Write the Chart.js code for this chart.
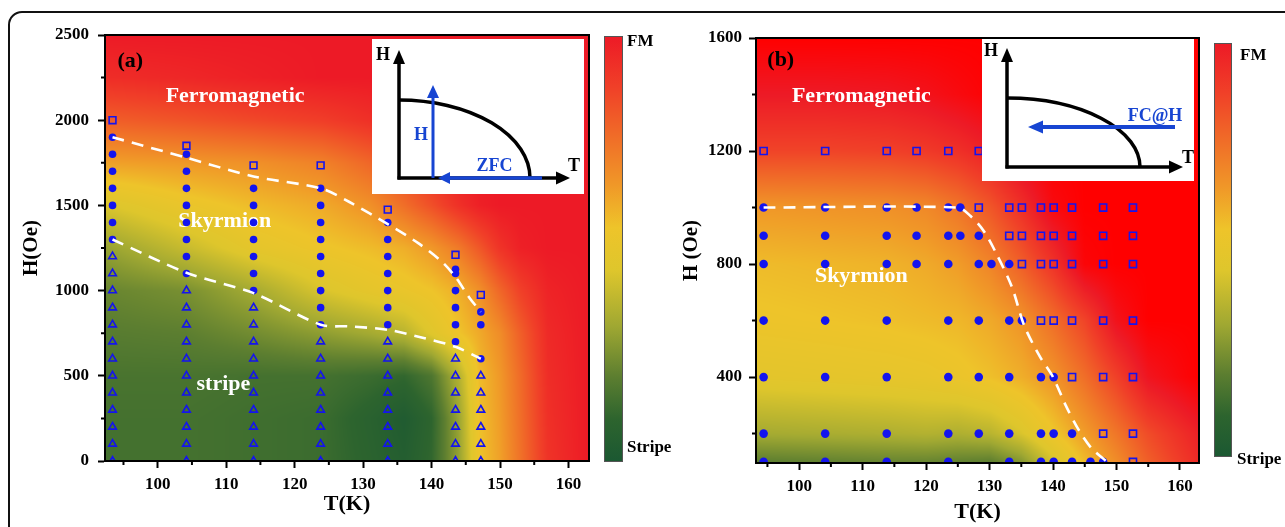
<!DOCTYPE html>
<html>
<head>
<meta charset="utf-8">
<script src="https://cdn.jsdelivr.net/npm/chart.js@4.4.1/dist/chart.umd.min.js"></script>
<style>
  body { margin: 0; background: #fff; width: 1285px; height: 527px; overflow: hidden; position: relative; }
  .frame { position: absolute; left: 8px; top: 11px; width: 1320px; height: 600px; border: 2.5px solid #111; border-radius: 14px; }
  canvas { position: absolute; top: 0; }
  #chartA { left: 0; }
  #chartB { left: 642px; }
</style>
</head>
<body>
<div class="frame"></div>
<canvas id="chartB" width="643" height="527"></canvas>
<canvas id="chartA" width="700" height="527"></canvas>
<script>
/**
 * Skyrmion phase diagrams: (a) ZFC protocol, (b) FC@H protocol.
 */

// ---------- panel (a) ----------
const xTicksA = [100, 110, 120, 130, 140, 150, 160];
const xMinorA = [95, 105, 115, 125, 135, 145, 155];
const yTicksA = [0, 500, 1000, 1500, 2000, 2500];
const yMinorA = [250, 750, 1250, 1750, 2250];

// measurement temperatures (K)
const colTA = [93.4, 104.2, 114.0, 123.8, 133.6, 143.5, 147.2];
// field values (Oe) per temperature column
const fmHA = [[2000], [1850], [1735], [1735], [1475], [1210], [975]];
const skHA = [
  [1900, 1800, 1700, 1600, 1500, 1400, 1300],
  [1800, 1700, 1600, 1500, 1400, 1300, 1200, 1100],
  [1600, 1500, 1400, 1300, 1200, 1100, 1000],
  [1600, 1500, 1400, 1300, 1200, 1100, 1000, 900, 800],
  [1400, 1300, 1200, 1100, 1000, 900, 800],
  [1125, 1100, 1000, 900, 800, 700],
  [875, 800, 600]
];
const stHA = [
  [1200, 1100, 1000, 900, 800, 700, 600, 500, 400, 300, 200, 100, 0],
  [1000, 900, 800, 700, 600, 500, 400, 300, 200, 100, 0],
  [900, 800, 700, 600, 500, 400, 300, 200, 100, 0],
  [700, 600, 500, 400, 300, 200, 100, 0],
  [700, 600, 500, 400, 300, 200, 100, 0],
  [600, 500, 400, 300, 200, 100, 0],
  [500, 400, 300, 200, 100, 0]
];
const upperTA = [93.4, 104.2, 114.0, 123.8, 128.0, 133.6, 138.0, 141.5, 143.5, 145.5, 147.2];
const upperHA = [1900, 1780, 1670, 1600, 1520, 1390, 1280, 1170, 1080, 960, 875];
const lowerTA = [93.4, 104.2, 114.0, 123.8, 128.0, 133.6, 139.0, 143.5, 147.2];
const lowerHA = [1300, 1105, 985, 800, 790, 770, 720, 670, 600];

// background phase value (0 = stripe, 1 = FM) sampled on a T x H grid
const mapTA = [92, 104, 114, 124, 131, 136, 140, 144, 147, 150, 153, 157, 163];
const mapHA = [0, 250, 500, 750, 1000, 1250, 1500, 1750, 2000, 2250, 2500];
const mapVA = [
  [0.15, 0.15, 0.14, 0.13, 0.09, 0.05, 0.11, 0.30, 0.55, 0.63, 0.75, 0.92, 1.0],
  [0.15, 0.15, 0.14, 0.13, 0.08, 0.03, 0.10, 0.31, 0.56, 0.64, 0.76, 0.93, 1.0],
  [0.16, 0.16, 0.15, 0.15, 0.13, 0.11, 0.17, 0.36, 0.57, 0.65, 0.77, 0.94, 1.0],
  [0.19, 0.20, 0.24, 0.29, 0.33, 0.37, 0.46, 0.55, 0.61, 0.68, 0.80, 0.95, 1.0],
  [0.22, 0.25, 0.33, 0.44, 0.49, 0.52, 0.55, 0.60, 0.67, 0.78, 0.88, 0.97, 1.0],
  [0.30, 0.40, 0.49, 0.54, 0.57, 0.60, 0.65, 0.73, 0.82, 0.92, 0.98, 1.0, 1.0],
  [0.44, 0.52, 0.57, 0.61, 0.67, 0.76, 0.84, 0.93, 0.98, 1.0, 1.0, 1.0, 1.0],
  [0.63, 0.65, 0.67, 0.71, 0.78, 0.87, 0.94, 0.99, 1.0, 1.0, 1.0, 1.0, 1.0],
  [0.80, 0.83, 0.86, 0.89, 0.93, 0.97, 1.0, 1.0, 1.0, 1.0, 1.0, 1.0, 1.0],
  [0.94, 0.96, 0.98, 1.0, 1.0, 1.0, 1.0, 1.0, 1.0, 1.0, 1.0, 1.0, 1.0],
  [1.0, 1.0, 1.0, 1.0, 1.0, 1.0, 1.0, 1.0, 1.0, 1.0, 1.0, 1.0, 1.0]
];

// ---------- panel (b) ----------
const xTicksB = [100, 110, 120, 130, 140, 150, 160];
const xMinorB = [95, 105, 115, 125, 135, 145, 155];
const yTicksB = [400, 800, 1200, 1600];
const yMinorB = [200, 600, 1000, 1400];

// field rows (Oe) and the temperatures measured on each row
const rowHB = [1200, 1000, 900, 800, 600, 400, 200, 100];
const fmTB = [
  [94.4, 104.1, 113.8, 118.5, 123.5, 128.3],
  [128.3, 133.1, 135.1, 138.1, 140.1, 143.0, 147.9, 152.6],
  [133.1, 135.1, 138.1, 140.1, 143.0, 147.9, 152.6],
  [135.1, 138.1, 140.1, 143.0, 147.9, 152.6],
  [138.1, 140.1, 143.0, 147.9, 152.6],
  [143.0, 147.9, 152.6],
  [147.9, 152.6],
  [152.6]
];
const skTB = [
  [],
  [94.4, 104.1, 113.8, 118.5, 123.5, 125.4],
  [94.4, 104.1, 113.8, 118.5, 123.5, 125.4, 128.3],
  [94.4, 104.1, 113.8, 118.5, 123.5, 128.3, 130.3, 133.1],
  [94.4, 104.1, 113.8, 123.5, 128.3, 133.1, 135.1],
  [94.4, 104.1, 113.8, 123.5, 128.3, 133.1, 138.1, 140.1],
  [94.4, 104.1, 113.8, 123.5, 128.3, 133.1, 138.1, 140.1, 143.0],
  [94.4, 104.1, 113.8, 123.5, 133.1, 138.1, 140.1, 143.0, 145.9, 147.9]
];
const boundTB = [94.4, 125.0, 127.0, 129.0, 131.0, 133.5, 135.5, 138.0, 140.0, 142.0, 144.0, 146.0, 148.5];
const boundHB = [1000, 1000, 970, 920, 840, 720, 580, 470, 400, 300, 215, 150, 100];

const mapTB = [93, 104, 114, 120, 125, 130, 135, 140, 145, 150, 155, 163];
const mapHB = [100, 200, 400, 600, 800, 1000, 1200, 1400, 1600];
const mapVB = [
  [0.20, 0.21, 0.22, 0.22, 0.21, 0.20, 0.27, 0.43, 0.57, 0.68, 0.80, 0.95],
  [0.33, 0.34, 0.35, 0.36, 0.35, 0.37, 0.44, 0.54, 0.64, 0.74, 0.85, 0.98],
  [0.48, 0.49, 0.50, 0.51, 0.53, 0.56, 0.60, 0.66, 0.76, 0.88, 1.02, 1.10],
  [0.54, 0.55, 0.56, 0.57, 0.58, 0.61, 0.66, 0.76, 0.87, 1.03, 1.10, 1.10],
  [0.57, 0.58, 0.59, 0.61, 0.64, 0.70, 0.80, 0.92, 1.08, 1.10, 1.10, 1.10],
  [0.65, 0.66, 0.67, 0.69, 0.74, 0.82, 0.93, 1.06, 1.10, 1.10, 1.10, 1.10],
  [0.87, 0.87, 0.88, 0.90, 0.93, 0.98, 1.06, 1.10, 1.10, 1.10, 1.10, 1.10],
  [1.00, 1.00, 1.01, 1.03, 1.06, 1.09, 1.10, 1.10, 1.10, 1.10, 1.10, 1.10],
  [1.10, 1.10, 1.10, 1.10, 1.10, 1.10, 1.10, 1.10, 1.10, 1.10, 1.10, 1.10]
];

// ---------- styling ----------
const SERIF = "'Liberation Serif', 'Times New Roman', serif";
const MARK = '#1414ee';
const INK = '#1745d2';

// stripe -> skyrmion -> FM colour map
const cmapStops = [
  [0.00, [27, 88, 50]],
  [0.10, [45, 100, 46]],
  [0.20, [92, 126, 48]],
  [0.32, [160, 168, 50]],
  [0.45, [222, 198, 44]],
  [0.55, [238, 196, 42]],
  [0.65, [240, 152, 40]],
  [0.76, [240, 110, 40]],
  [0.88, [240, 64, 40]],
  [1.00, [237, 26, 38]],
  [1.10, [255, 0, 0]]
];

function cmap(v) {
  if (v <= cmapStops[0][0]) return cmapStops[0][1];
  for (let i = 1; i < cmapStops.length; i++) {
    const [v1, c1] = cmapStops[i];
    if (v <= v1) {
      const [v0, c0] = cmapStops[i - 1];
      const f = (v - v0) / (v1 - v0);
      return c0.map((c, k) => c + (c1[k] - c) * f);
    }
  }
  return cmapStops[cmapStops.length - 1][1];
}

function locate(grid, v) {
  const n = grid.length;
  if (v <= grid[0]) return [0, 0];
  if (v >= grid[n - 1]) return [n - 2, 1];
  let i = 0;
  while (v > grid[i + 1]) i++;
  return [i, (v - grid[i]) / (grid[i + 1] - grid[i])];
}

function drawPhaseMap(chart, tGrid, hGrid, vals) {
  const { ctx, chartArea: ca, scales: { x, y } } = chart;
  const left = Math.round(ca.left), top = Math.round(ca.top);
  const w = Math.round(ca.right) - left, h = Math.round(ca.bottom) - top;
  const img = ctx.createImageData(w, h);
  const cols = [];
  for (let i = 0; i < w; i++) cols.push(locate(tGrid, x.getValueForPixel(left + i + 0.5)));
  for (let j = 0; j < h; j++) {
    const [hj, hf] = locate(hGrid, y.getValueForPixel(top + j + 0.5));
    const r0 = vals[hj], r1 = vals[hj + 1];
    for (let i = 0; i < w; i++) {
      const [ti, tf] = cols[i];
      const a = r0[ti] + (r0[ti + 1] - r0[ti]) * tf;
      const b = r1[ti] + (r1[ti + 1] - r1[ti]) * tf;
      const c = cmap(a + (b - a) * hf);
      const p = (j * w + i) * 4;
      img.data[p] = c[0]; img.data[p + 1] = c[1]; img.data[p + 2] = c[2]; img.data[p + 3] = 255;
    }
  }
  ctx.putImageData(img, left, top);
}

function arrow(ctx, x1, y1, x2, y2, color, lw, headLen, headW) {
  const ang = Math.atan2(y2 - y1, x2 - x1);
  const bx = x2 - Math.cos(ang) * headLen, by = y2 - Math.sin(ang) * headLen;
  ctx.strokeStyle = color;
  ctx.lineWidth = lw;
  ctx.beginPath(); ctx.moveTo(x1, y1); ctx.lineTo(bx, by); ctx.stroke();
  ctx.fillStyle = color;
  ctx.beginPath();
  ctx.moveTo(x2, y2);
  ctx.lineTo(bx + Math.sin(ang) * headW / 2, by - Math.cos(ang) * headW / 2);
  ctx.lineTo(bx - Math.sin(ang) * headW / 2, by + Math.cos(ang) * headW / 2);
  ctx.closePath(); ctx.fill();
}

function label(ctx, text, x, y, color, size, align) {
  ctx.fillStyle = color;
  ctx.font = `bold ${size}px ${SERIF}`;
  ctx.textAlign = align || 'center';
  ctx.textBaseline = 'middle';
  ctx.fillText(text, x, y);
}

// schematic of the measurement protocol (box-local pixels)
function drawInset(ctx, ca, inset) {
  const ox = ca.left + inset.box[0], oy = ca.top + inset.box[1];
  ctx.save();
  ctx.fillStyle = '#fff';
  ctx.fillRect(ox, oy, inset.box[2], inset.box[3]);
  const [cx, cy] = inset.origin;
  ctx.lineCap = 'butt';
  ctx.strokeStyle = '#000';
  ctx.lineWidth = 3.5;
  ctx.beginPath();
  ctx.ellipse(ox + cx, oy + cy, inset.dome[0], inset.dome[1], 0, -Math.PI / 2, 0);
  ctx.stroke();
  arrow(ctx, ox + cx, oy + cy + 1.5, ox + cx, oy + inset.yTip, '#000', 3.5, 14, 12);
  arrow(ctx, ox + cx - 1.5, oy + cy, ox + inset.xTip, oy + cy, '#000', 3.5, 14, 13);
  inset.arrows.forEach(a => arrow(ctx, ox + a[0], oy + a[1], ox + a[2], oy + a[3], INK, a[4], a[5], a[6]));
  inset.texts.forEach(t => label(ctx, t[0], ox + t[1], oy + t[2], t[3], 18));
  ctx.restore();
}

const colsToPoints = (cols, lists) => lists.flatMap((hs, i) => hs.map(h => ({ x: cols[i], y: h })));
const rowsToPoints = (rows, lists) => lists.flatMap((ts, i) => ts.map(t => ({ x: t, y: rows[i] })));
const linePoints = (ts, hs) => ts.map((t, i) => ({ x: t, y: hs[i] }));

function boundary(data) {
  return {
    data, showLine: true, pointRadius: 0, borderColor: '#fff', borderWidth: 2.6,
    borderDash: [12, 8], tension: 0.3, fill: false, clip: 0
  };
}

function markers(data, style, radius, filled) {
  return {
    data, showLine: false, pointStyle: style, pointRadius: radius,
    pointBackgroundColor: filled ? MARK : 'rgba(0,0,0,0)',
    pointBorderColor: MARK, pointBorderWidth: filled ? 0 : 1.6, clip: 0
  };
}

function makePanel(p) {
  const tickFont = { family: SERIF, size: 17, weight: 'bold' };
  const phasePlugin = {
    id: 'phase' + p.id,
    beforeDraw(chart) {
      drawPhaseMap(chart, p.mapT, p.mapH, p.mapV);
    },
    beforeDatasetsDraw(chart) {
      const { ctx, scales: { x, y } } = chart;
      ctx.save();
      p.texts.forEach(t => label(ctx, t.text, x.getPixelForValue(t.t), y.getPixelForValue(t.h), t.color, 22));
      ctx.restore();
    },
    afterDatasetsDraw(chart) {
      const { ctx, chartArea: ca } = chart;
      ctx.save();
      ctx.strokeStyle = '#000';
      ctx.lineWidth = 2;
      ctx.strokeRect(ca.left, ca.top, ca.right - ca.left, ca.bottom - ca.top);
      ctx.restore();
      drawInset(ctx, ca, p.inset);
    },
    afterDraw(chart) {
      const { ctx, chartArea: ca, scales: { x, y } } = chart;
      ctx.save();
      ctx.strokeStyle = '#000';
      ctx.lineWidth = 2;
      ctx.beginPath();
      p.xMinor.forEach(v => { const px = x.getPixelForValue(v); ctx.moveTo(px, ca.bottom); ctx.lineTo(px, ca.bottom + 4); });
      p.yMinor.forEach(v => { const py = y.getPixelForValue(v); ctx.moveTo(ca.left, py); ctx.lineTo(ca.left - 4, py); });
      ctx.stroke();
      // colour bar
      const cb = p.colorbar;
      const bx = ca.right + cb.gap, by0 = ca.top + cb.top, by1 = ca.bottom + cb.bottom;
      const grad = ctx.createLinearGradient(0, by1, 0, by0);
      cmapStops.filter(s => s[0] <= 1).forEach(s => grad.addColorStop(s[0], `rgb(${s[1].join(',')})`));
      ctx.fillStyle = grad;
      ctx.fillRect(bx, by0, cb.width, by1 - by0);
      ctx.strokeStyle = '#555';
      ctx.lineWidth = 1;
      ctx.strokeRect(bx + 0.5, by0 + 0.5, cb.width - 1, by1 - by0 - 1);
      label(ctx, 'FM', bx + cb.width + cb.fm[0], by0 + cb.fm[1], '#000', 17, 'left');
      label(ctx, 'Stripe', bx + cb.width + cb.stripe[0], by1 + cb.stripe[1], '#000', 17, 'left');
      ctx.restore();
    }
  };

  return new Chart(document.getElementById(p.canvas), {
    type: 'scatter',
    data: { datasets: p.datasets },
    options: {
      responsive: false,
      animation: false,
      events: [],
      layout: { padding: p.padding },
      plugins: { legend: { display: false }, tooltip: { enabled: false } },
      scales: {
        x: {
          type: 'linear', min: p.xRange[0], max: p.xRange[1],
          afterBuildTicks: s => { s.ticks = p.xTicks.map(v => ({ value: v })); },
          afterFit: s => { s.height = p.xHeight; },
          grid: { drawOnChartArea: false, tickLength: 7, tickWidth: 2, tickColor: '#000', color: '#000' },
          border: { color: '#000', width: 2 },
          ticks: { color: '#000', font: tickFont, padding: p.xTickPad, maxRotation: 0, autoSkip: false, callback: v => String(v) },
          title: { display: true, text: 'T(K)', color: '#000', font: { family: SERIF, size: 22, weight: 'bold' }, padding: { top: 0, bottom: p.xTitlePad } }
        },
        y: {
          type: 'linear', min: p.yRange[0], max: p.yRange[1],
          afterBuildTicks: s => { s.ticks = p.yTicks.map(v => ({ value: v })); },
          afterFit: s => { s.width = p.yWidth; },
          grid: { drawOnChartArea: false, tickLength: 7, tickWidth: 2, tickColor: '#000', color: '#000' },
          border: { color: '#000', width: 2 },
          ticks: { color: '#000', font: tickFont, padding: p.yTickPad, autoSkip: false, callback: v => String(v) },
          title: { display: true, text: p.yTitle, color: '#000', font: { family: SERIF, size: 21, weight: 'bold' }, padding: { top: p.yTitlePad, bottom: 0 } }
        }
      }
    },
    plugins: [phasePlugin]
  });
}

makePanel({
  id: 'A', canvas: 'chartA',
  xRange: [92.3, 163], yRange: [0, 2500],
  xTicks: xTicksA, xMinor: xMinorA, yTicks: yTicksA, yMinor: yMinorA,
  padding: { left: 0, top: 35, right: 111, bottom: 0 }, yWidth: 105, xHeight: 66,
  xTickPad: 6, yTickPad: 9, xTitlePad: 9, yTitlePad: 19, yTitle: 'H(Oe)',
  mapT: mapTA, mapH: mapHA, mapV: mapVA,
  datasets: [
    boundary(linePoints(upperTA, upperHA)),
    boundary(linePoints(lowerTA, lowerHA)),
    markers(colsToPoints(colTA, skHA), 'circle', 3.8, true),
    markers(colsToPoints(colTA, fmHA), 'rect', 4.8, false),
    markers(colsToPoints(colTA, stHA), 'triangle', 4.4, false)
  ],
  texts: [
    { text: '(a)', t: 96, h: 2344, color: '#000' },
    { text: 'Ferromagnetic', t: 111.3, h: 2142, color: '#fff' },
    { text: 'Skyrmion', t: 109.8, h: 1405, color: '#fff' },
    { text: 'stripe', t: 109.6, h: 452, color: '#fff' }
  ],
  inset: {
    box: [267, 4, 212, 155], origin: [27, 139], yTip: 11, xTip: 198, dome: [131, 78],
    arrows: [[61, 139, 61, 46, 3, 13, 12], [170, 139, 66, 139, 3.5, 12, 12]],
    texts: [['H', 11, 16, '#000'], ['T', 202, 127, '#000'], ['H', 49, 96, INK], ['ZFC', 122.5, 127.5, INK]]
  },
  colorbar: { gap: 15, width: 19, top: 1, bottom: 1, fm: [4, 6], stripe: [4, -14] }
});

makePanel({
  id: 'B', canvas: 'chartB',
  xRange: [93.2, 163], yRange: [96, 1600],
  xTicks: xTicksB, xMinor: xMinorB, yTicks: yTicksB, yMinor: yMinorB,
  padding: { left: 0, top: 38, right: 86, bottom: 0 }, yWidth: 114, xHeight: 64,
  xTickPad: 6.5, yTickPad: 7, xTitlePad: 1, yTitlePad: 37, yTitle: 'H (Oe)',
  mapT: mapTB, mapH: mapHB, mapV: mapVB,
  datasets: [
    boundary(linePoints(boundTB, boundHB)),
    markers(rowsToPoints(rowHB, skTB), 'circle', 4.3, true),
    markers(rowsToPoints(rowHB, fmTB), 'rect', 5, false)
  ],
  texts: [
    { text: '(b)', t: 97.1, h: 1522, color: '#000' },
    { text: 'Ferromagnetic', t: 109.8, h: 1395, color: '#fff' },
    { text: 'Skyrmion', t: 109.8, h: 757, color: '#fff' }
  ],
  inset: {
    box: [226, 1, 212, 142], origin: [25, 128], yTip: 9, xTip: 201, dome: [133, 69],
    arrows: [[193, 88, 46, 88, 4, 15, 13]],
    texts: [['H', 9, 12, '#000'], ['T', 206, 119, '#000'], ['FC@H', 173, 77, INK]]
  },
  colorbar: { gap: 15, width: 18, top: 5, bottom: -6, fm: [8, 13], stripe: [5, 3] }
});
</script>
</body>
</html>
